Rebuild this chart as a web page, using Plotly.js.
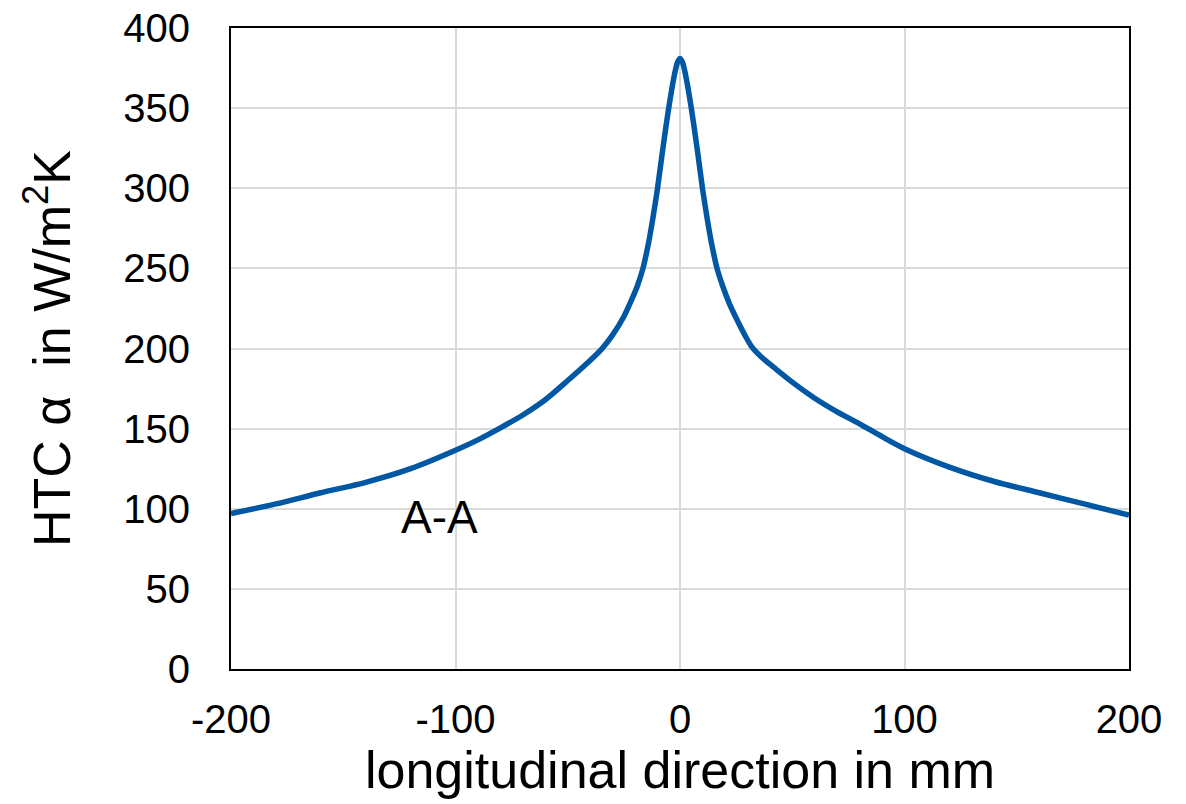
<!DOCTYPE html>
<html>
<head>
<meta charset="utf-8">
<script src="https://cdn.plot.ly/plotly-3.0.1.min.js"></script>
<style>html,body{margin:0;padding:0;background:#fff;}#chart{width:1186px;height:804px;}</style>
</head>
<body>
<div id="chart"></div>
<script>
const positionMm = [-200,-180,-160,-140,-120,-100,-90,-80,-70,-60,-50,-42,-35,-30,-25,-22,-19,-16.5,-14,-12,-10,-8,-6,-4,-2,-1,0,1,2,4,6,8,10,12,14,16.5,19,22,25,29,32,36,42,50,60,70,80,90,100,120,140,160,180,200];
const htcValues  = [97,103,110,116.5,125,136.5,143,150.5,158.5,168,180,190,199.5,208.5,220,229,239,250,266,282,300,321,341,359,374,379,381,379,374,359,341,321,300,282,266,250,239,228,219,208,201,195,188,179,169,160.5,153,145,137.5,126,117,110,103,96];
const xTickVals = [-200,-100,0,100,200];
const xTickText = ['-200','-100','0','100','200'];
const yTickVals = [0,50,100,150,200,250,300,350,400];
const sectionLabel = "A-A";

const trace = {
  x: positionMm, y: htcValues, type: 'scatter', mode: 'lines',
  line: {color: '#0057a3', width: 5.5, shape: 'spline', smoothing: 0.8},
  hoverinfo: 'skip', showlegend: false
};

const layout = {
  width: 1186, height: 804,
  margin: {l: 231, r: 57, t: 28, b: 135},
  paper_bgcolor: '#ffffff', plot_bgcolor: '#ffffff',
  font: {family: 'Liberation Sans, Arial, sans-serif', color: '#000000'},
  xaxis: {
    range: [-200, 200], tickvals: xTickVals, ticktext: xTickText, ticks: '',
    showgrid: true, gridcolor: '#d9d9d9', gridwidth: 2,
    showline: true, linecolor: '#000000', linewidth: 2, mirror: true,
    zeroline: false, tickfont: {size: 40}, ticklabelstandoff: 14,
    title: {text: 'longitudinal direction in mm', font: {size: 52}, standoff: 0}
  },
  yaxis: {
    range: [0, 400], tickvals: yTickVals, ticks: '',
    showgrid: true, gridcolor: '#d9d9d9', gridwidth: 2,
    showline: true, linecolor: '#000000', linewidth: 2, mirror: true,
    zeroline: false, tickfont: {size: 40}, ticklabelstandoff: 31,
    title: {text: 'HTC α  in W/m<sup>2</sup>K', font: {size: 52}, standoff: 36}
  },
  annotations: [{
    x: -107, y: 95, xref: 'x', yref: 'y', text: sectionLabel, showarrow: false,
    font: {size: 46, color: '#000000'}
  }]
};

Plotly.newPlot('chart', [trace], layout, {displayModeBar: false, staticPlot: true});
</script>
</body>
</html>
